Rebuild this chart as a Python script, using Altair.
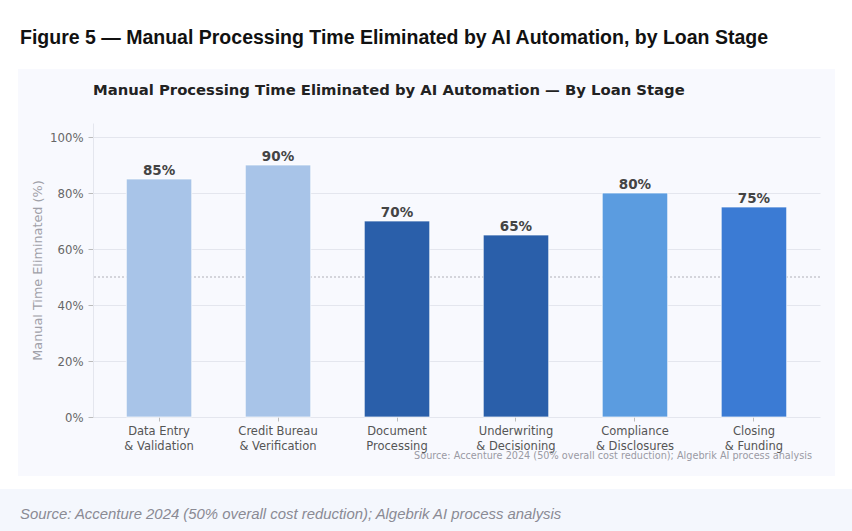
import altair as alt
import pandas as pd

stages = ["Data Entry|& Validation", "Credit Bureau|& Verification", "Document|Processing",
          "Underwriting|& Decisioning", "Compliance|& Disclosures", "Closing|& Funding"]
values = [85, 90, 70, 65, 80, 75]
colors = ["#a8c4e8", "#a8c4e8", "#2a5faa", "#2a5faa", "#5b9ce0", "#3b7bd4"]
y_ticks = [0, 20, 40, 60, 80, 100]
reference_value = 50

fig_title = "Figure 5 \u2014 Manual Processing Time Eliminated by AI Automation, by Loan Stage"
chart_title = "Manual Processing Time Eliminated by AI Automation \u2014 By Loan Stage"
y_title = "Manual Time Eliminated (%)"
source_inner = "Source: Accenture 2024 (50% overall cost reduction); Algebrik AI process analysis"
source_footer = "Source: Accenture 2024 (50% overall cost reduction); Algebrik AI process analysis"

df = pd.DataFrame({"stage": stages, "value": values, "color": colors})
df["label"] = [f"{v}%" for v in values]

W, H = 727, 294
one = alt.Data(values=[{"a": 1}])

x_enc = alt.X("stage:N", sort=stages,
              scale=alt.Scale(paddingInner=0.45, paddingOuter=0.28),
              axis=alt.Axis(title=None, labelExpr="split(datum.value, '|')", labelAngle=0,
                            labelFont="DejaVu Sans", labelFontSize=11.5, labelColor="#555",
                            labelPadding=4, labelLineHeight=15,
                            tickColor="#bbb", tickSize=4, domain=False, grid=False))
y_enc = alt.Y("value:Q", scale=alt.Scale(domain=[0, 105], nice=False),
              axis=alt.Axis(values=y_ticks, labelExpr="datum.value + '%'", title=y_title,
                            titleFont="DejaVu Sans", titleFontSize=12.8, titleFontWeight="normal",
                            titleColor="#a0a0a8", titlePadding=5,
                            labelFont="DejaVu Sans", labelFontSize=11.7, labelColor="#666",
                            tickColor="#bbb", tickSize=5, labelPadding=5,
                            domain=True, domainColor="#e4e6ee",
                            grid=True, gridColor="#e4e6ee", gridWidth=1))

def box(x1, x2, y1, y2, fill):
    return alt.Chart(one).mark_rect(fill=fill, strokeWidth=0).encode(
        x=alt.value(x1), x2=alt.value(x2), y=alt.value(y1), y2=alt.value(y2))

def txt(text, x, y, **kw):
    return alt.Chart(one).mark_text(text=text, **kw).encode(x=alt.value(x), y=alt.value(y))

bg = [
    box(-93, 759, -123, -54, "white"),
    box(-93, -75, -54, 353, "white"),
    box(742, 759, -54, 353, "white"),
    box(-93, 759, 353, 366, "white"),
    box(-93, 759, 366, 408, "#f4f7fd"),
]

bars = alt.Chart(df).mark_bar(stroke="white", strokeWidth=1, strokeOpacity=0.7).encode(
    x=x_enc, y=y_enc, color=alt.Color("color:N", scale=None))

labels = alt.Chart(df).mark_text(font="DejaVu Sans", fontSize=13.5, fontWeight="bold",
                                 color="#444", baseline="bottom", dy=-1).encode(
    x=alt.X("stage:N", sort=stages), y="value:Q", text="label:N")

ref = alt.Chart(alt.Data(values=[{"v": reference_value}])).mark_rule(
    color="#b0b0b8", strokeDash=[2, 2], strokeWidth=1).encode(y="v:Q")

texts = [
    txt(fig_title, -73, -85, font="Liberation Sans", fontSize=19.5, fontWeight="bold",
        color="#111", align="left", baseline="middle"),
    txt(chart_title, 0, -32, font="DejaVu Sans", fontSize=14.8, fontWeight="bold",
        color="#222", align="left", baseline="middle"),
    txt(source_inner, 719, 333, font="DejaVu Sans", fontSize=9.7, color="#9a9aa4",
        align="right", baseline="middle"),
    txt(source_footer, -73, 392, font="Liberation Sans", fontSize=14.9, fontStyle="italic",
        color="#8a8a94", align="left", baseline="middle"),
]

chart = alt.layer(*bg, ref, bars, labels, *texts).properties(
    width=W, height=H,
    background="#f8f9fe",
    padding={"left": 93, "top": 123, "right": 32, "bottom": 114},
    autosize=alt.AutoSizeParams(type="none"),
).configure_view(stroke=None)

chart.save("out.html", embed_options={"renderer": "svg", "actions": False})
